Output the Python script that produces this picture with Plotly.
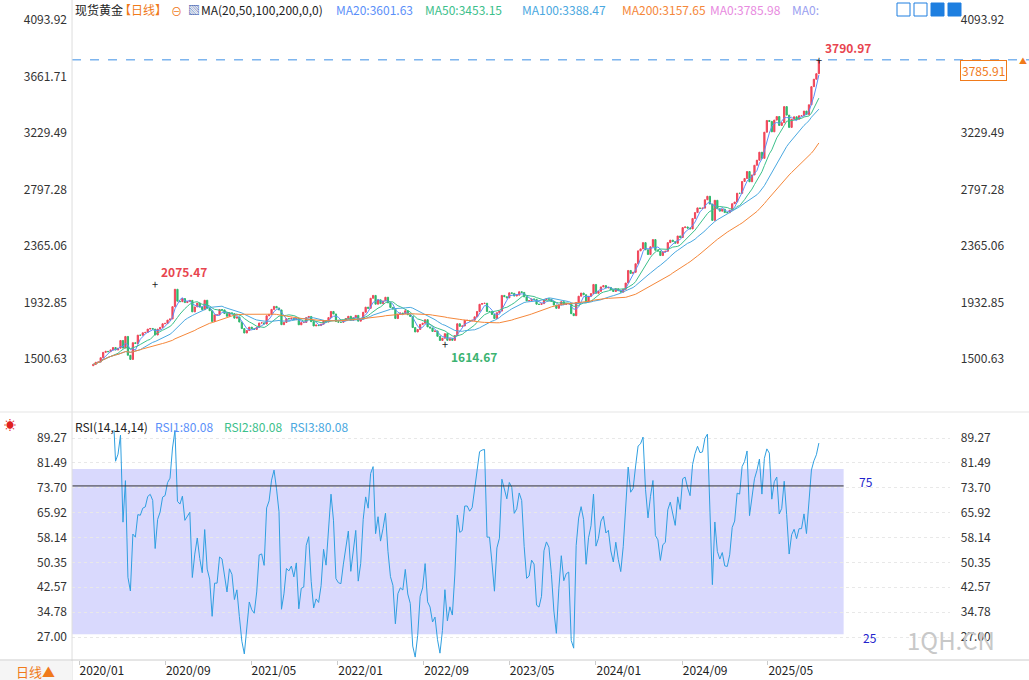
import pandas as pd
import numpy as np
import plotly.graph_objects as go

# weekly closes (estimated from chart), Dec 2019 .. Sep 2025
closes = [
 1460,1476,1478,1511,1552,
 1560,1557,1571,1589, 1570,1584,1643,1585, 1674,1530,1498,1626, 1620,1684,1683,1702,
 1705,1730,1735,1730, 1685,1730,1743,1771, 1774,1799,1808,1902, 2035,1944,1940,1964,
 1933,1941,1950,1862, 1900,1929,1900,1879, 1951,1889,1871,1788, 1839,1839,1880,1877,
 1849,1828,1855,1848, 1814,1823,1784,1734, 1700,1719,1745,1733, 1728,1744,1777,1778,1769,
 1832,1843,1881,1904, 1892,1877,1764,1781, 1811,1808,1813,1802,1814, 1763,1780,1781,1818,
 1827,1787,1754,1761, 1757,1768,1796,1784, 1818,1865,1846,1788, 1783,1782,1798,1811,1828,
 1797,1817,1835,1791, 1807,1859,1898,1889, 1966,1988,1921,1954, 1925,1946,1974,1931,1896,
 1883,1811,1846,1853, 1850,1871,1840,1827, 1742,1708,1727,1766, 1775,1802,1747,1738,
 1712,1716,1675,1643,1660, 1695,1644,1657,1644, 1681,1771,1751,1754, 1797,1797,1793,1798,1824,
 1865,1920,1926,1928, 1865,1865,1842,1811, 1856,1868,1988,1978,1969, 2008,2004,1983,1990,
 2016,2011,1977,1946, 1948,1961,1958,1921,1919, 1925,1955,1962,1959, 1943,1914,1889,1915,
 1940,1919,1924,1925,1848, 1833,1933,1982,2006, 1993,1940,1981,2002, 2072,2004,2019,2053,2063,
 2045,2049,2029,2018, 2039,2024,2013,2035, 2083,2179,2156,2165,2230, 2329,2344,2392,2337,
 2301,2360,2415,2334, 2327,2293,2322,2326, 2392,2411,2400,2387, 2443,2431,2507,2512,2503,
 2497,2577,2622,2658, 2653,2656,2720,2747, 2687,2562,2716,2651, 2633,2648,2622,2621,2640,
 2690,2703,2770,2769, 2860,2883,2936,2858, 2910,2984,3023,3084, 3037,3237,3327,3320,
 3240,3330,3357,3289, 3310,3433,3368,3274, 3337,3355,3336,3363, 3363,3399,3372,3447,
 3586,3643,3685,3785.91]

main_ticks = [1500.63, 1932.85, 2365.06, 2797.28, 3229.49, 3661.71, 4093.92]
rsi_ticks = [27.00, 34.78, 42.57, 50.35, 58.14, 65.92, 73.70, 81.49, 89.27]
date_ticks = ["2020-01-01","2020-09-01","2021-05-01","2022-01-01","2022-09-01",
              "2023-05-01","2024-01-01","2024-09-01","2025-05-01"]
date_labels = ["2020/01","2020/09","2021/05","2022/01","2022/09","2023/05","2024/01","2024/09","2025/05"]
high_val, high_date = 3790.97, "2025-09-22"
peak_val, peak_date = 2075.47, "2020-08-03"
low_val, low_date = 1614.67, "2022-10-31"

n = len(closes)
dates = pd.date_range(end="2025-09-22", periods=n, freq="W-MON")
c = pd.Series(closes, index=dates, dtype=float)
o = c.shift(1).fillna(c.iloc[0] - 10)
hi = np.maximum(o, c); lo = np.minimum(o, c)

ma_specs = [(4, "#5b8ff9"), (10, "#3cc08b"), (20, "#4aa8e0"), (40, "#f5873a")]

delta = c.diff()
up = delta.clip(lower=0).ewm(alpha=1/7, adjust=False).mean()
dn = (-delta.clip(upper=0)).ewm(alpha=1/7, adjust=False).mean()
rsi = 100 - 100 / (1 + up / dn)

fig = go.Figure()
fig.add_trace(go.Candlestick(x=dates, open=o, high=hi, low=lo, close=c,
    increasing=dict(line=dict(color="#f0465a", width=1), fillcolor="#f0465a"),
    decreasing=dict(line=dict(color="#2fb86d", width=1), fillcolor="#2fb86d"),
    xaxis="x", yaxis="y", showlegend=False, whiskerwidth=0))
for w, col in ma_specs:
    fig.add_trace(go.Scatter(x=dates, y=c.rolling(w, min_periods=1).mean(), mode="lines",
        line=dict(color=col, width=1), xaxis="x", yaxis="y", showlegend=False))
fig.add_trace(go.Scatter(x=dates, y=rsi, mode="lines", line=dict(color="#2f9fe0", width=1),
    xaxis="x2", yaxis="y2", showlegend=False))

xr = ["2019-12-12", "2026-09-27"]
font = dict(family="Noto Sans CJK SC, Noto Sans, sans-serif", size=12, color="#333")
fig.update_layout(
    width=1029, height=680, margin=dict(l=0, r=0, t=0, b=0),
    paper_bgcolor="white", plot_bgcolor="white", font=font,
    xaxis=dict(domain=[0.07, 0.923], range=xr, anchor="y", showticklabels=False, automargin=False,
               showgrid=False, rangeslider=dict(visible=False), zeroline=False),
    xaxis2=dict(domain=[0.07, 0.923], range=xr, anchor="y2", matches="x", automargin=False,
                tickvals=date_ticks, ticktext=date_labels, ticklabelposition="outside right",
                ticks="outside", ticklen=4, tickcolor="#ccc", showgrid=False,
                tickfont=dict(size=12, color="#222"), zeroline=False),
    yaxis=dict(domain=[0.394, 0.979], range=[1095, 4139.8], tickvals=main_ticks, automargin=False,
               ticktext=[f"{v:.2f}" for v in main_ticks], showgrid=False, zeroline=False,
               anchor="x", tickfont=dict(size=12, color="#333"), ticklabelstandoff=4),
    yaxis3=dict(domain=[0.394, 0.979], range=[1095, 4139.8], tickvals=main_ticks, automargin=False,
                ticktext=[f"{v:.2f}" for v in main_ticks], overlaying="y", side="right",
                anchor="x", showgrid=False, zeroline=False, tickfont=dict(size=12, color="#333"),
                ticklabelstandoff=10),
    yaxis2=dict(domain=[0.0294, 0.3676], range=[19.8, 91.8], tickvals=rsi_ticks, automargin=False,
                ticktext=[f"{v:.2f}" for v in rsi_ticks], showgrid=True, gridcolor="#e8e8e8",
                griddash="dot", zeroline=False, anchor="x2", tickfont=dict(size=12, color="#333"),
                ticklabelstandoff=4),
    yaxis4=dict(domain=[0.0294, 0.3676], range=[19.8, 91.8], tickvals=rsi_ticks, automargin=False,
                ticktext=[f"{v:.2f}" for v in rsi_ticks], overlaying="y2", side="right",
                anchor="x2", showgrid=False, zeroline=False, tickfont=dict(size=12, color="#333"),
                ticklabelstandoff=10),
)
fig.add_trace(go.Scatter(x=[dates[0]], y=[c.iloc[0]], xaxis="x", yaxis="y3", mode="markers",
                         marker=dict(opacity=0), showlegend=False, hoverinfo="skip"))
fig.add_trace(go.Scatter(x=[dates[0]], y=[50], xaxis="x2", yaxis="y4", mode="markers",
                         marker=dict(opacity=0), showlegend=False, hoverinfo="skip"))

shapes = [
    dict(type="rect", xref="x2", yref="y2", x0="2019-12-12", x1="2025-12-01", y0=27.9, y1=79.6,
         fillcolor="rgba(170,170,250,0.45)", line=dict(width=0), layer="below"),
    dict(type="line", xref="x2", yref="y2", x0="2019-12-12", x1="2025-12-01", y0=74.3, y1=74.3,
         line=dict(color="#333", width=1)),
    dict(type="line", xref="paper", yref="y", x0=0.07, x1=1.0, y0=high_val, y1=high_val,
         line=dict(color="#3a8ee6", width=1, dash="dash")),
    dict(type="line", xref="paper", yref="paper", x0=0.07, x1=0.07, y0=0, y1=1, line=dict(color="#ddd", width=1)),
    dict(type="line", xref="paper", yref="paper", x0=0, x1=1, y0=1-412/680, y1=1-412/680, line=dict(color="#e5e5e5", width=1)),
    dict(type="line", xref="paper", yref="paper", x0=0, x1=1, y0=1-660/680, y1=1-660/680, line=dict(color="#ccc", width=1)),
    dict(type="rect", xref="paper", yref="paper", x0=0, x1=0.07, y0=0, y1=1-661/680,
         fillcolor="#f5f5f5", line=dict(width=0)),
]
for k, px in enumerate([897, 914, 931, 948]):
    shapes.append(dict(type="rect", xref="paper", yref="paper", x0=px/1029, x1=(px+13)/1029,
                       y0=1-16/680, y1=1-3/680, line=dict(color="#1e7fe0", width=1),
                       fillcolor="#1e7fe0" if k >= 2 else "white"))
fig.update_layout(shapes=shapes)

def ann(x, y, text, color="#333", size=12, xanchor="left", **kw):
    fig.add_annotation(x=x/1029, y=1-y/680, xref="paper", yref="paper", text=text, showarrow=False,
                       xanchor=xanchor, yanchor="middle", font=dict(size=size, color=color), **kw)

ann(73, 10, "现货黄金", "#222")
ann(117, 10, "【日线】", "#f07a1a")
ann(169, 11, "⊖", "#f07a1a", 11)
ann(186, 10, "▧", "#3355aa", 12)
ann(199, 10, "MA(20,50,100,200,0,0)", "#222")
ann(334, 10, "MA20:3601.63", "#5b8ff9")
ann(423, 10, "MA50:3453.15", "#3cc08b")
ann(520, 10, "MA100:3388.47", "#4aa8e0")
ann(620, 10, "MA200:3157.65", "#f5873a")
ann(708, 10, "MA0:3785.98", "#e88ae0")
ann(790, 10, "MA0:", "#9aa0f0")
ann(73, 426, "RSI(14,14,14)", "#222")
ann(153, 426, "RSI1:80.08", "#5b8ff9")
ann(222, 426, "RSI2:80.08", "#3cc08b")
ann(288, 426, "RSI3:80.08", "#4aa8e0")
ann(10, 424, "☀", "#e02020", 12, xanchor="center")
ann(857, 481, "75", "#2222cc")
ann(861, 637, "25", "#2222cc")
ann(905, 639, "1QH.CN", "#c8c8c8", 24)
ann(14, 671, "日线▲", "#f07a1a", 13)
ann(960, 71, "3785.91", "#f07a1a", 12, bordercolor="#f07a1a", borderwidth=1, bgcolor="white", borderpad=1)
ann(1023, 60, "▲", "#f07a1a", 8, xanchor="center")
for v, d, col, dy in [(high_val, high_date, "#e8454f", -12), (peak_val, peak_date, "#e8454f", -12),
                      (low_val, low_date, "#3cb371", 12)]:
    fig.add_annotation(x=d, y=v, xref="x", yref="y", text="+", showarrow=False,
                       font=dict(size=11, color="#222"))
    fig.add_annotation(x=d, y=v, xref="x", yref="y", text=f"<b>{v:.2f}</b>", showarrow=False,
                       xanchor="left", xshift=4, yshift=-dy,
                       font=dict(size=12, color=col))

fig.write_html("out.html", config={"displayModeBar": False},
               post_script="document.body.style.margin='0';document.body.style.overflow='hidden';")
